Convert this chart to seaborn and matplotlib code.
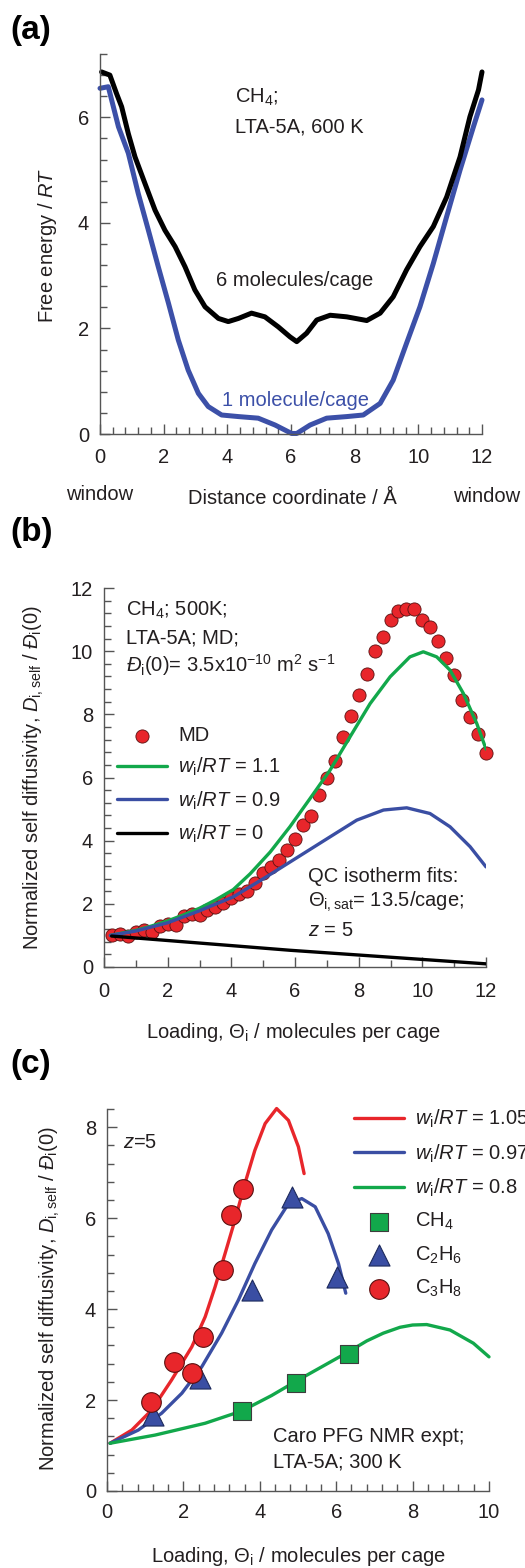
import numpy as np
import pandas as pd
import matplotlib
matplotlib.use("Agg")
import matplotlib.pyplot as plt
import seaborn as sns
from matplotlib.ticker import MultipleLocator

# ---------------- data ----------------
# (a) free energy profiles of CH4 along the window-to-window coordinate
dist_6 = [0.05, 0.31, 0.52, 0.68, 0.89, 1.10, 1.41, 1.73, 2.04, 2.36, 2.67, 2.98,
          3.30, 3.72, 4.03, 4.35, 4.76, 5.18, 5.60, 5.97, 6.18, 6.49, 6.81,
          7.23, 7.75, 8.38, 8.80, 9.21, 9.63, 10.05, 10.47, 10.89, 11.31,
          11.62, 11.89, 12.0]
fe_6 = [6.86, 6.80, 6.45, 6.20, 5.69, 5.25, 4.75, 4.24, 3.86, 3.55, 3.17, 2.73,
        2.41, 2.19, 2.13, 2.19, 2.29, 2.22, 2.03, 1.84, 1.75, 1.91, 2.16,
        2.25, 2.22, 2.15, 2.29, 2.60, 3.11, 3.55, 3.93, 4.49, 5.25,
        6.01, 6.52, 6.86]
dist_1 = [0.0, 0.26, 0.42, 0.58, 0.89, 1.20, 1.52, 1.83, 2.15, 2.46, 2.77, 3.09,
          3.40, 3.82, 4.35, 4.97, 5.50, 6.02, 6.18, 6.60, 7.12, 7.75, 8.27,
          8.80, 9.21, 9.63, 10.05, 10.47, 10.89, 11.31, 11.73, 12.0]
fe_1 = [6.55, 6.58, 6.20, 5.82, 5.32, 4.56, 3.86, 3.17, 2.48, 1.78, 1.21, 0.77,
        0.52, 0.36, 0.33, 0.30, 0.17, 0.01, 0.01, 0.17, 0.30, 0.33, 0.36,
        0.58, 1.02, 1.72, 2.41, 3.23, 4.12, 5.00, 5.82, 6.33]

# (b) MD self-diffusivities of CH4 in LTA-5A at 500 K
md_load = [0.25, 0.5, 0.75, 1.0, 1.25, 1.5, 1.75, 2.0, 2.25, 2.5, 2.75, 3.0,
           3.25, 3.5, 3.75, 4.0, 4.25, 4.5, 4.75, 5.0, 5.25, 5.5, 5.75, 6.0,
           6.25, 6.5, 6.75, 7.0, 7.25, 7.5, 7.75, 8.0, 8.25, 8.5, 8.75, 9.0,
           9.25, 9.5, 9.75, 10.0, 10.25, 10.5, 10.75, 11.0, 11.25, 11.5,
           11.75, 12.0]
md_diff = [1.0, 1.03, 0.98, 1.10, 1.17, 1.10, 1.30, 1.36, 1.33, 1.61, 1.67, 1.65,
           1.82, 1.89, 2.02, 2.17, 2.31, 2.41, 2.65, 2.98, 3.17, 3.39, 3.70, 4.04,
           4.49, 4.78, 5.44, 5.97, 6.53, 7.27, 7.94, 8.61, 9.29, 10.01, 10.45,
           10.98, 11.28, 11.32, 11.32, 10.98, 10.77, 10.32, 9.79, 9.26, 8.45,
           7.90, 7.37, 6.76]
fit11_load = [0.2, 1.0, 1.5, 2.0, 2.5, 3.0, 3.5, 4.06, 4.59, 5.22, 5.84, 6.47,
              7.10, 7.73, 8.36, 8.99, 9.61, 10.03, 10.45, 10.87, 11.29, 11.71,
              12.0]
fit11_diff = [1.0, 1.16, 1.30, 1.46, 1.65, 1.86, 2.12, 2.45, 2.95, 3.64, 4.44,
              5.33, 6.23, 7.29, 8.34, 9.19, 9.82, 9.98, 9.82, 9.40, 8.66, 7.71,
              6.90]
fit09_load = [0.2, 1.0, 2.0, 3.0, 4.06, 5.11, 6.2, 7.10, 7.94, 8.78, 9.51,
              10.24, 10.87, 11.50, 12.0]
fit09_diff = [1.0, 1.14, 1.40, 1.78, 2.22, 2.86, 3.55, 4.12, 4.65, 4.97, 5.04,
              4.86, 4.44, 3.81, 3.17]
fit0_load = [0.24, 5.84, 12.0]
fit0_diff = [0.98, 0.53, 0.10]

# (c) PFG NMR self-diffusivities at 300 K and QC fits
c105_load = [0.08, 0.65, 1.17, 1.69, 2.22, 2.57, 2.83, 3.09, 3.35, 3.61, 3.87,
             4.14, 4.44, 4.75, 5.01, 5.16]
c105_diff = [1.05, 1.34, 1.78, 2.44, 3.17, 3.83, 4.49, 5.22, 5.96, 6.76, 7.49,
             8.08, 8.41, 8.15, 7.57, 6.98]
c097_load = [0.08, 0.82, 1.43, 1.96, 2.48, 3.0, 3.44, 3.87, 4.31, 4.75, 5.10,
             5.45, 5.79, 6.06, 6.25]
c097_diff = [1.05, 1.34, 1.71, 2.15, 2.73, 3.47, 4.20, 5.00, 5.74, 6.32, 6.43,
             6.25, 5.66, 5.00, 4.35]
c08_load = [0.08, 1.26, 2.57, 3.53, 4.31, 4.92, 5.62, 6.32, 6.80, 7.23, 7.67,
            8.0, 8.37, 8.98, 9.59, 10.0]
c08_diff = [1.05, 1.23, 1.49, 1.76, 2.10, 2.40, 2.73, 3.06, 3.30, 3.47, 3.60,
            3.65, 3.66, 3.54, 3.25, 2.95]
ch4_load = [3.54, 4.95, 6.34]
ch4_diff = [1.77, 2.38, 3.01]
c2h6_load = [1.21, 2.43, 3.79, 4.84, 6.03]
c2h6_diff = [1.67, 2.49, 4.42, 6.47, 4.70]
c3h8_load = [1.14, 1.75, 2.22, 2.50, 3.03, 3.25, 3.55]
c3h8_diff = [1.96, 2.84, 2.60, 3.39, 4.86, 6.07, 6.64]

# ---------------- style ----------------
sns.set_theme(style="ticks")
plt.rcParams["font.family"] = ["Liberation Sans", "DejaVu Sans"]
plt.rcParams["mathtext.fontset"] = "custom"
plt.rcParams["mathtext.rm"] = "Liberation Sans"
plt.rcParams["mathtext.it"] = "Liberation Sans:italic"
plt.rcParams["mathtext.bf"] = "Liberation Sans:bold"
plt.rcParams["text.color"] = "#231f20"

RED = "#e8262b"
GREEN = "#12a84b"
BLUE = "#3a4ea3"
BLUE_A = "#3c50a8"
INK = "#231f20"

W, H = 525, 1568
fig = plt.figure(figsize=(W / 100, H / 100), dpi=100)
fig.patch.set_facecolor("white")


def fpos(x, y):
    return x / W, 1 - y / H


def make_axes(left, right, bottom, top):
    ax = fig.add_axes([left / W, 1 - bottom / H, (right - left) / W, (bottom - top) / H])
    sns.despine(ax=ax)
    for s in ("left", "bottom"):
        ax.spines[s].set_linewidth(1.0)
        ax.spines[s].set_color("#555555")
    ax.tick_params(which="both", direction="in", colors="#555555", width=1.0,
                   labelcolor=INK, labelsize=14.5)
    ax.tick_params(which="major", length=7)
    ax.tick_params(which="minor", length=5)
    ax.set_facecolor("white")
    return ax


def label(x, y, s, **kw):
    kw.setdefault("fontsize", 14.5)
    kw.setdefault("ha", "left")
    kw.setdefault("va", "center")
    fig.text(*fpos(x, y), s, **kw)


# ---------------- panel (a) ----------------
ax_a = make_axes(100, 482, 434, 54)
sns.lineplot(x=dist_1, y=fe_1, ax=ax_a, color=BLUE_A, lw=3.6, sort=False,
             estimator=None, solid_capstyle="round", solid_joinstyle="round")
sns.lineplot(x=dist_6, y=fe_6, ax=ax_a, color="black", lw=3.6, sort=False,
             estimator=None, solid_capstyle="round", solid_joinstyle="round")
ax_a.set_xlim(0, 12)
ax_a.set_ylim(0, 7.2)
ax_a.xaxis.set_major_locator(MultipleLocator(2))
ax_a.xaxis.set_minor_locator(MultipleLocator(0.4))
ax_a.yaxis.set_major_locator(MultipleLocator(2))
ax_a.yaxis.set_minor_locator(MultipleLocator(0.4))
ax_a.tick_params(axis="x", pad=10)
ax_a.tick_params(axis="y", pad=8)
ax_a.set_xlabel("")
ax_a.set_ylabel("")
for ln in ax_a.lines:
    ln.set_clip_on(False)

label(10, 30, "(a)", fontsize=24, fontweight="bold", color="black")
label(235, 97, r"CH$_\mathregular{4}$;")
label(235, 127, "LTA-5A, 600 K")
label(295, 280, "6 molecules/cage", ha="center")
label(295, 401, "1 molecule/cage", ha="center", color=BLUE_A)
label(100, 495, "window", ha="center")
label(292, 499, "Distance coordinate / Å", ha="center")
label(487, 497, "window", ha="center")
label(48, 245, r"Free energy / $RT$", ha="center", rotation=90)

# ---------------- panel (b) ----------------
ax_b = make_axes(104, 486, 967, 588)
sns.scatterplot(x=md_load, y=md_diff, ax=ax_b, s=90, color=RED,
                edgecolor="#5a1010", linewidth=0.6, label="MD", clip_on=False,
                zorder=2)
sns.lineplot(x=fit11_load, y=fit11_diff, ax=ax_b, color=GREEN, lw=2.4,
             sort=False, estimator=None, label=r"$w_\mathregular{i}$/$RT$ = 1.1")
sns.lineplot(x=fit09_load, y=fit09_diff, ax=ax_b, color=BLUE, lw=2.4,
             sort=False, estimator=None, label=r"$w_\mathregular{i}$/$RT$ = 0.9")
sns.lineplot(x=fit0_load, y=fit0_diff, ax=ax_b, color="black", lw=2.4,
             sort=False, estimator=None, label=r"$w_\mathregular{i}$/$RT$ = 0")
for ln in ax_b.lines:
    ln.set_zorder(3)
    ln.set_solid_joinstyle("round")
ax_b.set_xlim(0, 12)
ax_b.set_ylim(0, 12)
ax_b.xaxis.set_major_locator(MultipleLocator(2))
ax_b.xaxis.set_minor_locator(MultipleLocator(1))
ax_b.yaxis.set_major_locator(MultipleLocator(2))
ax_b.yaxis.set_minor_locator(MultipleLocator(0.4))
ax_b.tick_params(axis="x", pad=11)
ax_b.tick_params(axis="y", pad=8)
ax_b.set_xlabel("")
ax_b.set_ylabel("")
hb, lb = ax_b.get_legend_handles_labels()
ax_b.legend(hb, lb, loc="upper left", bbox_to_anchor=fpos(117, 726),
            bbox_transform=fig.transFigure, frameon=False, fontsize=14.5,
            handlelength=2.5, handletextpad=0.55, labelspacing=0.55,
            borderpad=0, borderaxespad=0)

label(10, 532, "(b)", fontsize=24, fontweight="bold", color="black")
label(126, 610, r"CH$_\mathregular{4}$; 500K;")
label(126, 638, "LTA-5A; MD;")
label(126, 665, r"$Đ_\mathregular{i}$(0)= 3.5x10$^\mathregular{-10}$ m$^\mathregular{2}$ s$^\mathregular{-1}$")
label(308, 876, "QC isotherm fits:")
label(308, 902, r"Θ$_\mathregular{i,sat}$= 13.5/cage;")
label(308, 930, r"$z$ = 5")
label(293, 1033, r"Loading, Θ$_\mathregular{i}$ / molecules per cage", ha="center")
label(34, 778, r"Normalized self diffusivity, $D_\mathregular{i,self}$ / $Đ_\mathregular{i}$(0)",
      ha="center", rotation=90)

# ---------------- panel (c) ----------------
ax_c = make_axes(107, 489, 1491, 1109)
sns.lineplot(x=c105_load, y=c105_diff, ax=ax_c, color=RED, lw=2.4, sort=False,
             estimator=None, label=r"$w_\mathregular{i}$/$RT$ = 1.05")
sns.lineplot(x=c097_load, y=c097_diff, ax=ax_c, color=BLUE, lw=2.4, sort=False,
             estimator=None, label=r"$w_\mathregular{i}$/$RT$ = 0.97")
sns.lineplot(x=c08_load, y=c08_diff, ax=ax_c, color=GREEN, lw=2.4, sort=False,
             estimator=None, label=r"$w_\mathregular{i}$/$RT$ = 0.8")
for ln in ax_c.lines:
    ln.set_solid_joinstyle("round")
    ln.set_clip_on(False)
sns.scatterplot(x=ch4_load, y=ch4_diff, ax=ax_c, marker="s", s=150, color=GREEN,
                edgecolor="#3d3d3d", linewidth=0.8, label=r"CH$_\mathregular{4}$",
                zorder=4, clip_on=False)
sns.scatterplot(x=c2h6_load, y=c2h6_diff, ax=ax_c, marker="^", s=230, color=BLUE,
                edgecolor="#1d2a5c", linewidth=0.8,
                label=r"C$_\mathregular{2}$H$_\mathregular{6}$", zorder=4, clip_on=False)
sns.scatterplot(x=c3h8_load, y=c3h8_diff, ax=ax_c, marker="o", s=200, color=RED,
                edgecolor="#5a1010", linewidth=0.8,
                label=r"C$_\mathregular{3}$H$_\mathregular{8}$", zorder=5, clip_on=False)
ax_c.set_xlim(0, 10)
ax_c.set_ylim(0, 8.4)
ax_c.xaxis.set_major_locator(MultipleLocator(2))
ax_c.xaxis.set_minor_locator(MultipleLocator(0.4))
ax_c.yaxis.set_major_locator(MultipleLocator(2))
ax_c.yaxis.set_minor_locator(MultipleLocator(0.4))
ax_c.tick_params(axis="x", pad=9)
ax_c.tick_params(axis="y", pad=8)
ax_c.set_xlabel("")
ax_c.set_ylabel("")
hc, lc = ax_c.get_legend_handles_labels()
ax_c.legend(hc, lc, loc="upper left", bbox_to_anchor=fpos(354, 1108),
            bbox_transform=fig.transFigure, frameon=False, fontsize=14.5,
            handlelength=2.5, handletextpad=0.55, labelspacing=0.6,
            borderpad=0, borderaxespad=0)

label(10, 1065, "(c)", fontsize=24, fontweight="bold", color="black")
label(123, 1142, r"$z$=5")
label(273, 1437, "Caro PFG NMR expt;")
label(273, 1462, "LTA-5A; 300 K")
label(298, 1557, r"Loading, Θ$_\mathregular{i}$ / molecules per cage", ha="center")
label(50, 1299, r"Normalized self diffusivity, $D_\mathregular{i,self}$ / $Đ_\mathregular{i}$(0)",
      ha="center", rotation=90)

fig.savefig("out.png", dpi=100, facecolor="white")
